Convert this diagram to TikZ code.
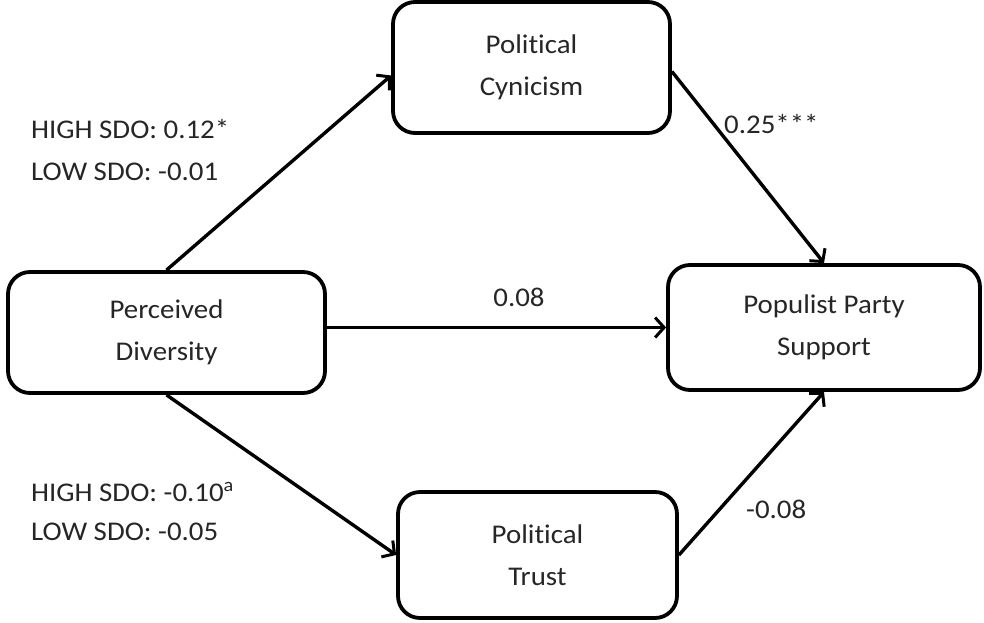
\documentclass[tikz,border=0pt]{standalone}
\usepackage{fontspec}
\setmainfont{Carlito}[Ligatures={NoCommon,NoContextual},FakeStretch=1.07]
\usetikzlibrary{arrows.meta,calc}
\begin{document}
\begin{tikzpicture}[x=1pt,y=-1pt,
  box/.style={draw=black,line width=3.8pt,rounded corners=22pt,align=center,
    font=\fontsize{27}{42}\selectfont,text=black!85,inner sep=0pt},
  lbl/.style={font=\fontsize{27}{30}\selectfont,text=black!85,inner sep=0pt},
  conn/.style={line width=3.4pt,-{Straight Barb[length=9pt,width=20pt,line width=3pt]}}]
\useasboundingbox[fill=white] (0,0) rectangle (984,623);
\node[box,minimum width=277pt,minimum height=131pt] (cyn) at (531.5,67.5) {Political\\Cynicism};
\node[box,minimum width=312pt,minimum height=125pt] (pop) at (824,327.5) {Populist Party\\Support};
\node[box,minimum width=317pt,minimum height=121pt] (perc) at (166.5,332.5) {Perceived\\Diversity};
\node[box,minimum width=279pt,minimum height=126pt] (trust) at (537.5,555) {Political\\Trust};
\draw[conn] (perc.north) -- ($(cyn.west)+(0,8)$);
\draw[conn] ($(cyn.east)+(0,4)$) -- (pop.north);
\draw[conn] (perc.east |- pop.west) -- (pop.west);
\draw[conn] (perc.south) -- (trust.west);
\draw[conn] (trust.east) -- (pop.south);
\node[lbl,anchor=west] (l1) at (31,129) {HIGH SDO: 0.12*};
\node[lbl,anchor=west] (l2) at (31,172) {LOW SDO: -0.01};
\node[lbl,anchor=west] (l3) at (31,492) {HIGH SDO: -0.10\textsuperscript{a}};
\node[lbl,anchor=west] (l4) at (31,532) {LOW SDO: -0.05};
\node[lbl] (l5) at (519,297) {0.08};
\node[lbl,anchor=west] (l6) at (724,124) {0.25***};
\node[lbl,anchor=west] (l7) at (746,509) {-0.08};
\end{tikzpicture}
\end{document}
